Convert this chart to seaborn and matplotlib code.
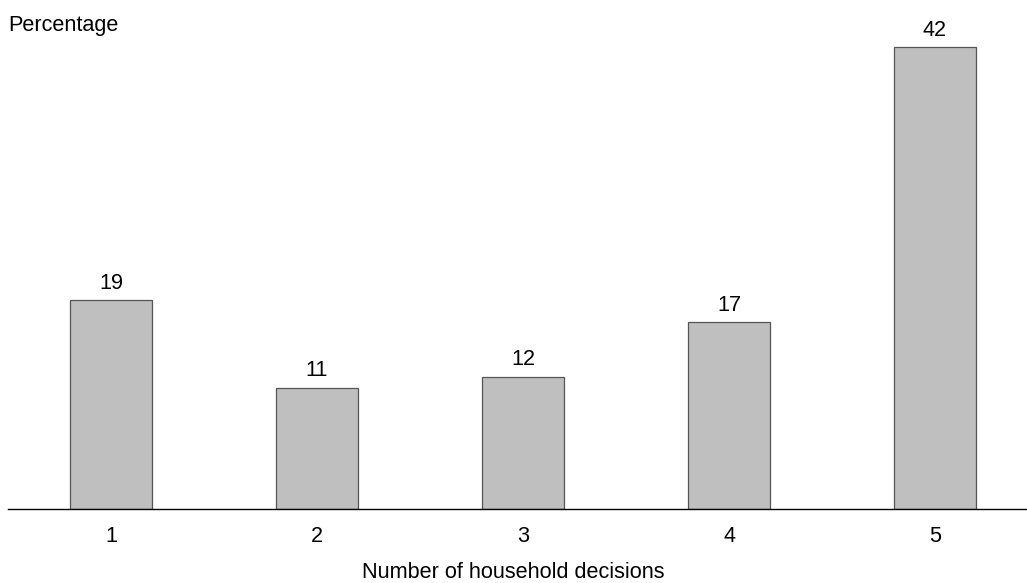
import matplotlib
matplotlib.use("Agg")
import matplotlib.pyplot as plt
import seaborn as sns
import pandas as pd

# 家庭決策數量分佈
decisions = ["1", "2", "3", "4", "5"]
percentages = [19, 11, 12, 17, 42]

df = pd.DataFrame({"decisions": decisions, "pct": percentages})

sns.set_style("white")
plt.rcParams['font.family'] = ['Liberation Sans', 'DejaVu Sans']
plt.rcParams['text.color'] = 'black'
plt.rcParams['xtick.color'] = 'black'
plt.rcParams['axes.labelcolor'] = 'black'

fs = 15.6

fig = plt.figure(figsize=(10.27, 5.83), dpi=100)
ax = fig.add_axes([8 / 1027, 74 / 583, 1019 / 1027, 509 / 583])

sns.barplot(data=df, x="decisions", y="pct", color="#bfbfbf", saturation=1,
            width=0.4, edgecolor="#555555", linewidth=0.9, ax=ax)

for i, v in enumerate(percentages):
    ax.text(i, v + 0.6, str(v), ha="center", va="bottom", fontsize=fs)

ax.set_xlim(-0.5, -0.5 + 1019 / 206)
ax.set_ylim(0, 46.3)
for side in ["top", "right", "left"]:
    ax.spines[side].set_visible(False)
ax.spines["bottom"].set_color("black")
ax.spines["bottom"].set_linewidth(1)
ax.set_yticks([])
ax.tick_params(axis="x", length=0, labelsize=fs, pad=12)
ax.set_ylabel("")
ax.set_xlabel("")

# x 軸標題與 y 軸說明直接放在 figure 座標
fig.text(513 / 1027, 1 - 572 / 583, "Number of household decisions",
         ha="center", va="center", fontsize=fs)
fig.text(8 / 1027, 1 - 25 / 583, "Percentage", ha="left", va="center", fontsize=fs)

fig.savefig("out.png", dpi=100)
